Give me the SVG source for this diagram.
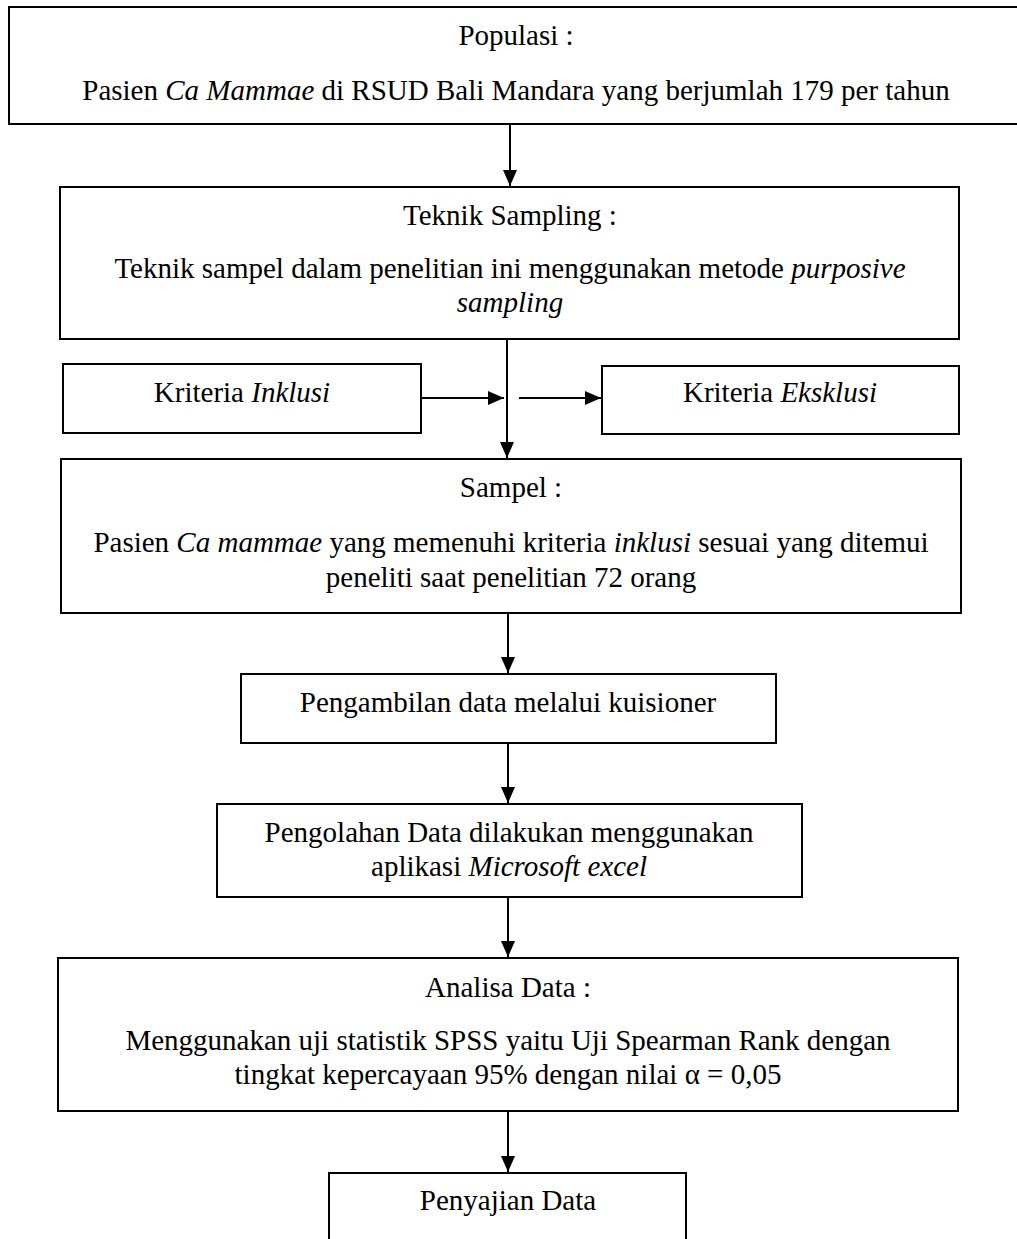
<svg xmlns="http://www.w3.org/2000/svg" width="1017" height="1239" viewBox="0 0 1017 1239">
<style>
.box{fill:#fff;stroke:#000;stroke-width:2}
.t{font-family:"Liberation Serif","Times New Roman",serif;font-size:29px;fill:#000;text-anchor:middle}
.i{font-style:italic}
.c{stroke:#000;stroke-width:2;fill:none}
</style>
<defs>
<marker id="ah" markerUnits="userSpaceOnUse" markerWidth="16" markerHeight="14" refX="16" refY="7" orient="auto">
<path d="M0,0 L16,7 L0,14 Z" fill="#000"/>
</marker>
</defs>
<rect width="1017" height="1239" fill="#fff"/>
<g id="connectors">
<line class="c" x1="510" y1="124" x2="510" y2="186" marker-end="url(#ah)"/>
<line class="c" x1="507" y1="339" x2="507" y2="458" marker-end="url(#ah)"/>
<line class="c" x1="421" y1="398" x2="504" y2="398" marker-end="url(#ah)"/>
<line class="c" x1="519" y1="398" x2="601" y2="398" marker-end="url(#ah)"/>
<line class="c" x1="508" y1="613" x2="508" y2="673" marker-end="url(#ah)"/>
<line class="c" x1="508" y1="743" x2="508" y2="803" marker-end="url(#ah)"/>
<line class="c" x1="508" y1="897" x2="508" y2="957" marker-end="url(#ah)"/>
<line class="c" x1="508" y1="1111" x2="508" y2="1172" marker-end="url(#ah)"/>
</g>
<g id="populasi">
<rect class="box" x="9" y="7" width="1020" height="117"/>
<text class="t" x="516" y="45">Populasi :</text>
<text class="t" x="516" y="100">Pasien <tspan class="i">Ca Mammae</tspan> di RSUD Bali Mandara yang berjumlah 179 per tahun</text>
</g>
<g id="teknik">
<rect class="box" x="60" y="187" width="899" height="152"/>
<text class="t" x="510" y="225">Teknik Sampling :</text>
<text class="t" x="510" y="278">Teknik sampel dalam penelitian ini menggunakan metode <tspan class="i">purposive</tspan></text>
<text class="t i" x="510" y="312">sampling</text>
</g>
<g id="inklusi">
<rect class="box" x="63" y="364" width="358" height="69"/>
<text class="t" x="242" y="402">Kriteria <tspan class="i">Inklusi</tspan></text>
</g>
<g id="eksklusi">
<rect class="box" x="602" y="366" width="357" height="68"/>
<text class="t" x="780" y="402">Kriteria <tspan class="i">Eksklusi</tspan></text>
</g>
<g id="sampel">
<rect class="box" x="61" y="459" width="900" height="154"/>
<text class="t" x="511" y="497">Sampel :</text>
<text class="t" x="511" y="552">Pasien <tspan class="i">Ca mammae</tspan> yang memenuhi kriteria <tspan class="i">inklusi</tspan> sesuai yang ditemui</text>
<text class="t" x="511" y="587">peneliti saat penelitian 72 orang</text>
</g>
<g id="pengambilan">
<rect class="box" x="241" y="674" width="535" height="69"/>
<text class="t" x="508" y="712">Pengambilan data melalui kuisioner</text>
</g>
<g id="pengolahan">
<rect class="box" x="217" y="804" width="585" height="93"/>
<text class="t" x="509" y="842">Pengolahan Data dilakukan menggunakan</text>
<text class="t" x="509" y="876">aplikasi <tspan class="i">Microsoft excel</tspan></text>
</g>
<g id="analisa">
<rect class="box" x="58" y="958" width="900" height="153"/>
<text class="t" x="508" y="997">Analisa Data :</text>
<text class="t" x="508" y="1050">Menggunakan uji statistik SPSS yaitu Uji Spearman Rank dengan</text>
<text class="t" x="508" y="1084">tingkat kepercayaan 95% dengan nilai α = 0,05</text>
</g>
<g id="penyajian">
<rect class="box" x="329" y="1173" width="357" height="80"/>
<text class="t" x="508" y="1210">Penyajian Data</text>
</g>
</svg>
